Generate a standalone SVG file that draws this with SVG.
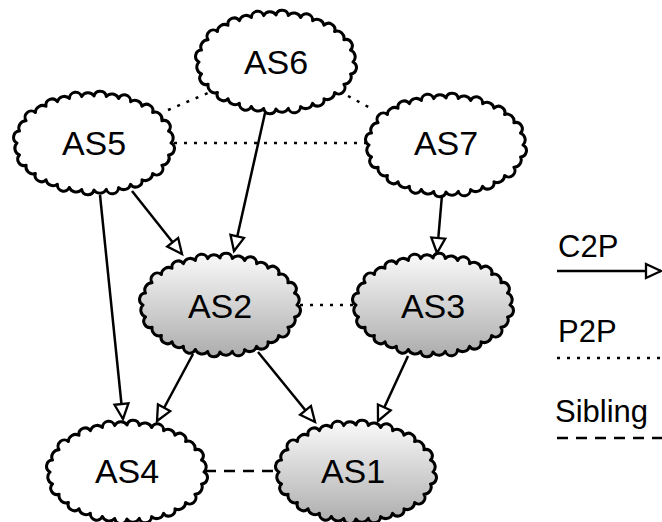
<svg xmlns="http://www.w3.org/2000/svg" width="662" height="522" viewBox="0 0 662 522">
<style>
.cloud{stroke:#000;stroke-width:3;stroke-linejoin:round}
.white{fill:#fff}
.gray{fill:url(#g)}
.lbl{font-family:"Liberation Sans",Arial,Helvetica,sans-serif;font-size:34px;fill:#000;text-anchor:middle}
.leg{font-family:"Liberation Sans",Arial,Helvetica,sans-serif;font-size:31px;fill:#000}
.c2p{stroke:#000;stroke-width:2.5;fill:none;marker-end:url(#arr)}
.p2p{stroke:#000;stroke-width:2.5;fill:none;stroke-dasharray:3 7}
.sib{stroke:#000;stroke-width:2.5;fill:none;stroke-dasharray:11 8}
</style>
<defs>
<linearGradient id="g" x1="0" y1="0" x2="0" y2="1">
<stop offset="0" stop-color="#fafafa"/>
<stop offset="1" stop-color="#acacac"/>
</linearGradient>
<marker id="arr" markerUnits="userSpaceOnUse" markerWidth="20" markerHeight="18" viewBox="-2 -2 20 18" refX="15" refY="7" orient="auto">
<path d="M0,0 L15,7 L0,14 Z" fill="#fff" stroke="#000" stroke-width="2.3" stroke-linejoin="miter"/>
</marker>
<path id="cl" d="M77,0 A6.3,6.3 0 0 1 74.5,11.9 A7.2,7.2 0 0 1 67.9,22.2 A6.3,6.3 0 0 1 58.6,30.5 A7.2,7.2 0 0 1 48,36.7 A6.3,6.3 0 0 1 36.6,41.3 A7.2,7.2 0 0 1 24.6,44.5 A6.3,6.3 0 0 1 12.3,46.4 A7.2,7.2 0 0 1 0,47 A6.3,6.3 0 0 1 -12.3,46.4 A7.2,7.2 0 0 1 -24.6,44.5 A6.3,6.3 0 0 1 -36.6,41.3 A7.2,7.2 0 0 1 -48,36.7 A6.3,6.3 0 0 1 -58.6,30.5 A7.2,7.2 0 0 1 -67.9,22.2 A6.3,6.3 0 0 1 -74.5,11.9 A7.2,7.2 0 0 1 -77,0 A6.3,6.3 0 0 1 -74.5,-11.9 A7.2,7.2 0 0 1 -67.9,-22.2 A6.3,6.3 0 0 1 -58.6,-30.5 A7.2,7.2 0 0 1 -48,-36.7 A6.3,6.3 0 0 1 -36.6,-41.3 A7.2,7.2 0 0 1 -24.6,-44.5 A6.3,6.3 0 0 1 -12.3,-46.4 A7.2,7.2 0 0 1 0,-47 A6.3,6.3 0 0 1 12.3,-46.4 A7.2,7.2 0 0 1 24.6,-44.5 A6.3,6.3 0 0 1 36.6,-41.3 A7.2,7.2 0 0 1 48,-36.7 A6.3,6.3 0 0 1 58.6,-30.5 A7.2,7.2 0 0 1 67.9,-22.2 A6.3,6.3 0 0 1 74.5,-11.9 A7.2,7.2 0 0 1 77,0 Z"/>
</defs>
<rect width="662" height="522" fill="#fff"/>
<g id="AS6" transform="translate(276,62)"><use href="#cl" class="cloud white"/><text class="lbl" x="0" y="12">AS6</text></g>
<g id="AS5" transform="translate(94,143)"><use href="#cl" class="cloud white"/><text class="lbl" x="0" y="12">AS5</text></g>
<g id="AS7" transform="translate(446,145)"><use href="#cl" class="cloud white"/><text class="lbl" x="0" y="10">AS7</text></g>
<g id="AS2" transform="translate(220,305)"><use href="#cl" class="cloud gray"/><text class="lbl" x="0" y="13">AS2</text></g>
<g id="AS3" transform="translate(433,305)"><use href="#cl" class="cloud gray"/><text class="lbl" x="0" y="13">AS3</text></g>
<g id="AS4" transform="translate(127,472)"><use href="#cl" class="cloud white"/><text class="lbl" x="0" y="11">AS4</text></g>
<g id="AS1" transform="translate(356,472)"><use href="#cl" class="cloud gray"/><text class="lbl" x="-3" y="11">AS1</text></g>
<g id="connectors">
<line class="c2p" x1="265" y1="113" x2="234" y2="251"/>
<line class="c2p" x1="132" y1="191" x2="182" y2="254"/>
<line class="c2p" x1="100" y1="195" x2="123" y2="419"/>
<line class="c2p" x1="442" y1="195" x2="437" y2="253"/>
<line class="c2p" x1="193" y1="354" x2="157" y2="421"/>
<line class="c2p" x1="258" y1="352" x2="315" y2="422"/>
<line class="c2p" x1="408" y1="356" x2="378" y2="421"/>
<line class="p2p" x1="168" y1="110" x2="208" y2="93"/>
<line class="p2p" x1="348" y1="96" x2="372" y2="109"/>
<line class="p2p" x1="174" y1="143" x2="368" y2="143"/>
<line class="p2p" x1="300" y1="305" x2="354" y2="305"/>
<line class="sib" x1="205" y1="471" x2="278" y2="471"/>
</g>
<g id="legend">
<text class="leg" x="558" y="257">C2P</text>
<line class="c2p" x1="557" y1="271" x2="661" y2="271"/>
<text class="leg" x="558" y="342">P2P</text>
<line class="p2p" x1="557" y1="358" x2="662" y2="358"/>
<text class="leg" x="555" y="422">Sibling</text>
<line class="sib" x1="557" y1="438" x2="662" y2="438"/>
</g>
</svg>
